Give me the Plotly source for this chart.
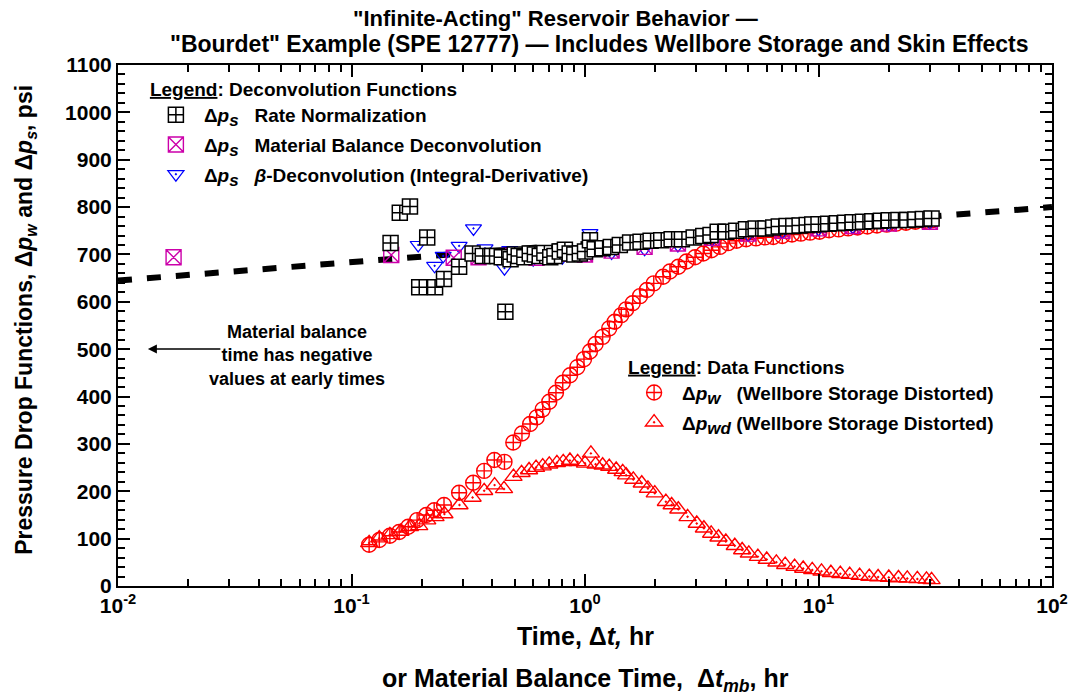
import numpy as np
import plotly.graph_objects as go

# --- data ---
# delta p_w, wellbore storage distorted (red circles)
dpw_t = [0.119, 0.1315, 0.146, 0.160, 0.175, 0.191, 0.209, 0.226, 0.249, 0.289,
         0.332, 0.370, 0.409, 0.452, 0.493, 0.537, 0.582, 0.621, 0.659, 0.703,
         0.751, 0.803, 0.863, 0.927, 0.99, 1.05, 1.11, 1.19, 1.27, 1.34,
         1.43, 1.50, 1.60, 1.72, 1.84, 1.97, 2.16, 2.31, 2.51, 2.72,
         2.96, 3.21, 3.48, 3.78, 4.10, 4.46, 4.9, 5.4, 5.9, 6.4,
         7.0, 7.7, 8.4, 9.2, 10.1, 11.1, 12.2, 13.4, 14.7, 16.2,
         17.8, 19.6, 21.5, 23.7, 26.0, 28.6, 30.5]
dpw = [87, 97, 106, 114, 125, 139, 150, 160, 171, 197,
       218, 243, 266, 262, 303, 322, 342, 356, 373, 389,
       408, 429, 445, 462, 479, 495, 511, 526, 544, 558,
       572, 584, 597, 612, 625, 639, 653, 664, 674, 685,
       694, 702, 709, 716, 724, 729, 732, 734, 736, 737,
       739, 742, 744, 746, 748, 751, 753, 755, 757, 759,
       761, 763, 765, 767, 769, 771, 772]

# delta p_wd, derivative (red triangles)
dpwd_t = [0.119, 0.1315, 0.146, 0.162, 0.178, 0.195, 0.211, 0.229, 0.25, 0.29,
          0.330, 0.370, 0.41, 0.45, 0.494, 0.535, 0.576, 0.617, 0.659, 0.703,
          0.758, 0.807, 0.862, 0.93, 1.0, 1.06, 1.11, 1.19, 1.27, 1.36,
          1.45, 1.50, 1.61, 1.75, 1.86, 1.99, 2.22, 2.35, 2.51, 2.75,
          3.01, 3.23, 3.47, 3.73, 4.01, 4.38, 4.71, 5.03, 5.5, 6.0,
          6.6, 7.2, 7.9, 8.6, 9.4, 10.3, 11.3, 12.4, 13.6, 15.0,
          16.5, 18.0, 20.0, 22.0, 24.0, 26.5, 29.0, 30.5]
dpwd = [91, 101, 108, 115, 125, 127, 139, 146, 152, 171,
        187, 201, 213, 205, 231, 239, 245, 250, 253, 257,
        260, 262, 265, 262, 259, 280, 257, 255, 252, 246,
        241, 234, 225, 217, 206, 196, 178, 171, 162, 146,
        132, 122, 111, 103, 94, 85, 76, 69, 62, 56,
        50, 45, 41, 37, 34, 31, 28, 26, 24, 22,
        20, 19, 18, 17, 16, 15, 14, 13]

# delta p_s, rate normalization (black squares)
rn_t = [0.147, 0.161, 0.178, 0.195, 0.211, 0.228, 0.249, 0.289, 0.330, 0.365,
        0.40, 0.42, 0.44, 0.456, 0.48, 0.50, 0.52, 0.55, 0.58, 0.61,
        0.64, 0.67, 0.71, 0.74, 0.78, 0.82, 0.86, 0.90, 0.95, 1.0,
        1.05, 1.10, 1.19, 1.29, 1.41, 1.56, 1.73, 1.91, 2.12, 2.35,
        2.60, 2.92, 3.21, 3.45, 3.70, 4.01, 4.44, 4.89, 5.38, 5.93,
        6.4, 6.76, 7.3, 7.8, 8.3, 8.9, 9.4, 10.0, 11.0, 12.0,
        13.0, 14.0, 15.5, 17.0, 18.5, 20.0, 22.0, 24.0, 26.0, 28.0, 30.5]
rn = [724, 788, 801, 631, 736, 631, 648, 674, 702, 697,
      697, 697, 694, 579, 690, 700, 697, 694, 702, 700,
      697, 703, 694, 697, 706, 710, 702, 700, 702, 706,
      730, 711, 713, 716, 720, 725, 727, 729, 730, 732,
      732, 736, 739, 741, 748, 748, 750, 753, 755, 755,
      757, 759, 760, 760, 761, 762, 763, 764, 765, 766,
      767, 768, 769, 770, 771, 772, 773, 773, 774, 775, 776]

# delta p_s, material balance deconvolution (magenta)
mb_t = [0.0173, 0.148, 0.274, 0.35, 0.47, 0.62, 0.80, 1.0, 1.3, 1.8,
        2.5, 3.5, 5.0, 7.0, 10.0, 14.0, 20.0, 30.0]
mb = [694, 699, 693, 694, 697, 693, 702, 700, 708, 716,
      723, 735, 744, 750, 755, 760, 765, 769]

# delta p_s, beta-deconvolution (blue)
bd_t = [0.193, 0.227, 0.247, 0.289, 0.333, 0.373, 0.452, 0.476, 0.60, 0.80,
        1.05, 1.3, 1.8, 2.5, 3.5, 5.0, 7.0, 10.0, 14.0, 20.0, 30.0]
bd = [720, 676, 697, 718, 755, 713, 671, 709, 690, 694,
      745, 704, 712, 720, 732, 742, 748, 754, 759, 764, 768]

# semilog straight line (infinite-acting)
line_t = [0.01, 100]
line_p = [645, 800]

x_minor = [m * 10.0 ** k for k in range(-2, 2) for m in range(2, 10)]

FONT = "Liberation Sans"
RED = "#ff0000"
NB = "\u00a0"


def sub(s):
    return "<sub><span style='font-size:17px'>" + s + "</span></sub>"


fig = go.Figure()

fig.add_trace(go.Scatter(x=line_t, y=line_p, mode="lines", showlegend=False,
                         line=dict(color="black", width=6, dash="14px,15px")))

fig.add_trace(go.Scatter(
    x=dpw_t, y=dpw, mode="markers", legend="legend2", legendgroup="a",
    name="Δ<i>p" + sub("w") + "</i>" + NB * 3 + "(Wellbore Storage Distorted)",
    marker=dict(symbol="circle-cross-open", size=15, color=RED,
                line=dict(color=RED, width=1.4))))
fig.add_trace(go.Scatter(
    x=dpwd_t, y=dpwd, mode="markers", legend="legend2", legendgroup="b",
    name="Δ<i>p" + sub("wd") + "</i>" + NB + "(Wellbore Storage Distorted)",
    marker=dict(symbol="triangle-up-open-dot", size=15, color=RED,
                line=dict(color=RED, width=1.4))))

fig.add_trace(go.Scatter(
    x=bd_t, y=bd, mode="markers", legendgroup="c", legendrank=3,
    name="Δ<i>p" + sub("s") + "</i>" + NB * 3 + "<i>β</i>-Deconvolution (Integral-Derivative)",
    marker=dict(symbol="triangle-down-open-dot", size=14, color="#0000ff",
                line=dict(color="#0000ff", width=1.2))))
fig.add_trace(go.Scatter(
    x=mb_t, y=mb, mode="markers", legendgroup="d", legendrank=2,
    name="Δ<i>p" + sub("s") + "</i>" + NB * 3 + "Material Balance Deconvolution",
    marker=dict(symbol="square-x-open", size=15, color="#cc00aa",
                line=dict(color="#cc00aa", width=1.4))))
fig.add_trace(go.Scatter(
    x=rn_t, y=rn, mode="markers", legendgroup="e", legendrank=1,
    name="Δ<i>p" + sub("s") + "</i>" + NB * 3 + "Rate Normalization",
    marker=dict(symbol="square-cross", size=15, color="white",
                line=dict(color="black", width=1.5))))

tickfont = dict(family=FONT, size=21, color="black", weight="bold")
legfont = dict(family=FONT, size=19, color="black", weight="bold")

fig.update_layout(
    width=1073, height=696,
    margin=dict(l=118, r=21, t=65, b=110),
    paper_bgcolor="white", plot_bgcolor="white",
    font=dict(family=FONT, size=16, color="black", weight="bold"),
    legend=dict(x=0.032, y=0.988, xanchor="left", yanchor="top",
                bgcolor="rgba(0,0,0,0)", tracegroupgap=2, traceorder="grouped",
                itemwidth=46,
                title=dict(text="<b><u>Legend</u>: Deconvolution Functions</b>", font=legfont),
                font=legfont),
    legend2=dict(x=0.544, y=0.455, xanchor="left", yanchor="top",
                 bgcolor="rgba(0,0,0,0)", tracegroupgap=2, traceorder="grouped",
                 itemwidth=46,
                 title=dict(text="<b><u>Legend</u>: Data Functions</b>", font=legfont),
                 font=legfont),
    xaxis=dict(type="log", range=[-2, 2], showgrid=False, zeroline=False,
               showline=True, linecolor="black", linewidth=2, mirror="ticks",
               ticks="inside", ticklen=12, tickwidth=2, tickcolor="black",
               tickvals=[0.01, 0.1, 1, 10, 100],
               ticktext=["<b>10<sup>-2</sup></b>", "<b>10<sup>-1</sup></b>",
                         "<b>10<sup>0</sup></b>", "<b>10<sup>1</sup></b>",
                         "<b>10<sup>2</sup></b>"],
               tickfont=tickfont, ticklabeloverflow="allow", automargin=False,
               minor=dict(ticks="inside", ticklen=7, tickwidth=1.5, tickcolor="black",
                          tickvals=x_minor, showgrid=False)),
    yaxis=dict(range=[0, 1100], showgrid=False, zeroline=False,
               showline=True, linecolor="black", linewidth=2, mirror="ticks",
               ticks="inside", ticklen=12, tickwidth=2, tickcolor="black",
               dtick=100, tickfont=tickfont, automargin=False,
               minor=dict(ticks="inside", ticklen=7, tickwidth=1.5, tickcolor="black",
                          dtick=20, showgrid=False)),
)

# title (two centred lines)
fig.add_annotation(text="<b>\"Infinite-Acting\" Reservoir Behavior —</b>",
                   xref="paper", yref="paper", x=0.468, y=1.090, xanchor="center",
                   yanchor="middle", showarrow=False, font=dict(size=22))
fig.add_annotation(text="<b>\"Bourdet\" Example (SPE 12777) — Includes Wellbore Storage and Skin Effects</b>",
                   xref="paper", yref="paper", x=0.516, y=1.040, xanchor="center",
                   yanchor="middle", showarrow=False, font=dict(size=23))

# axis titles
fig.add_annotation(text="<b>Time, Δ<i>t,</i> hr</b>", xref="paper", yref="paper",
                   x=0.50, y=-0.096, xanchor="center", yanchor="middle",
                   showarrow=False, font=dict(size=25))
fig.add_annotation(text="<b>or Material Balance Time,\u00a0 Δ<i>t<sub>mb</sub></i>, hr</b>",
                   xref="paper", yref="paper", x=0.50, y=-0.180, xanchor="center",
                   yanchor="middle", showarrow=False, font=dict(size=25))
fig.add_annotation(text="<b>Pressure Drop Functions, Δ<i>p<sub>w</sub></i> and Δ<i>p<sub>s</sub></i>, psi</b>",
                   xref="paper", yref="paper", x=-0.099, y=0.51, textangle=-90,
                   xanchor="center", yanchor="middle", showarrow=False, font=dict(size=23))

# note on material balance time
fig.add_annotation(text="<b>Material balance<br>time has negative<br>values at early times</b>",
                   xref="paper", yref="paper", x=0.192, y=0.443, xanchor="center",
                   yanchor="middle", showarrow=False, font=dict(size=18))
fig.add_annotation(text="", xref="paper", yref="paper", x=0.032, y=0.455,
                   ax=74, ay=0, showarrow=True, arrowhead=2, arrowsize=1.2,
                   arrowwidth=1.5, arrowcolor="black")

# drop the default page margin so the figure sits at the window's corner
fig.write_html("out.html", config={"displayModeBar": False},
               post_script="document.body.style.margin='0';")
